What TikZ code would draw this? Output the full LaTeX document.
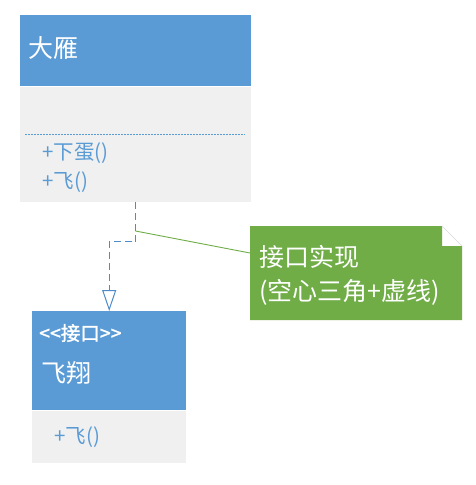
\documentclass[tikz,border=0pt]{standalone}
\usepackage{fontspec}
\newfontfamily\cjk{Noto Sans CJK SC}
\newfontfamily\cjkb[FakeBold=1.5]{Noto Sans CJK SC}
\usetikzlibrary{arrows.meta}
\definecolor{umlblue}{HTML}{5B9BD5}
\definecolor{linkblue}{HTML}{4F8BCB}
\definecolor{umlgray}{HTML}{F0F0F0}
\definecolor{notegreen}{HTML}{70AD47}
\tikzset{
  headbox/.style={fill=umlblue, inner sep=0pt, anchor=north west},
  bodybox/.style={fill=umlgray, inner sep=0pt, anchor=north},
  bigtext/.style={anchor=west, inner sep=0pt, white, font=\cjk\fontsize{25}{29}\selectfont},
  stereotext/.style={anchor=west, inner sep=0pt, white, font=\cjkb\fontsize{19.5}{23}\selectfont},
  methodtext/.style={anchor=west, inner sep=0pt, umlblue, font=\cjk\fontsize{20.5}{24}\selectfont},
  implarrow/.style={linkblue, line width=1.2pt, dash pattern=on 7pt off 4pt,
    -{Triangle[open, length=21pt, width=14pt, fill=white, line width=1pt]}}
}
\begin{document}
\begin{tikzpicture}[x=1pt,y=-1pt]
\useasboundingbox (0,0) rectangle (475,485);
\fill[white] (0,0) rectangle (475,485);

% 大雁
\node[headbox, minimum width=231pt, minimum height=71pt] (dayanhead) at (20,15) {};
\node[bodybox, minimum width=231pt, minimum height=115pt] (dayanbody) at (dayanhead.south) {};
\node[bigtext] (dayanname) at (28,48) {大雁};
\draw[umlblue, line width=0.6pt, dash pattern=on 2pt off 1pt] (25,134) -- (245,134);
\node[methodtext] (xiadan) at (42,153) {+下蛋()};
\node[methodtext] (fei1) at (42,182) {+飞()};

% 飞翔
\node[headbox, minimum width=154pt, minimum height=99pt] (feixianghead) at (32,311) {};
\node[bodybox, minimum width=154pt, minimum height=52pt] (feixiangbody) at (feixianghead.south) {};
\node[stereotext] (stereo) at (39,333) {<<接口>>};
\node[bigtext] (feixiangname) at (41,373) {飞翔};
\node[methodtext] (fei2) at (54,437) {+飞()};

% 接口实现
\draw[implarrow] (dayanbody.south) -- ++(0,40) -| (feixianghead.north);

% note
\fill[notegreen] (250,226) -- (442,226) -- (442,246) -- (462,246) -- (462,320) -- (250,320) -- cycle;
\draw[black!15, line width=0.5pt] (442,226) -- (462,246);
\coordinate (bend) at (135.5,231);
\coordinate (notepin) at (250,253);
\draw[notegreen, line width=0.9pt] (bend) -- (notepin);
\node[bigtext] (note1) at (259,257) {接口实现};
\node[bigtext] (note2) at (259,292) {(空心三角+虚线)};
\end{tikzpicture}
\end{document}
